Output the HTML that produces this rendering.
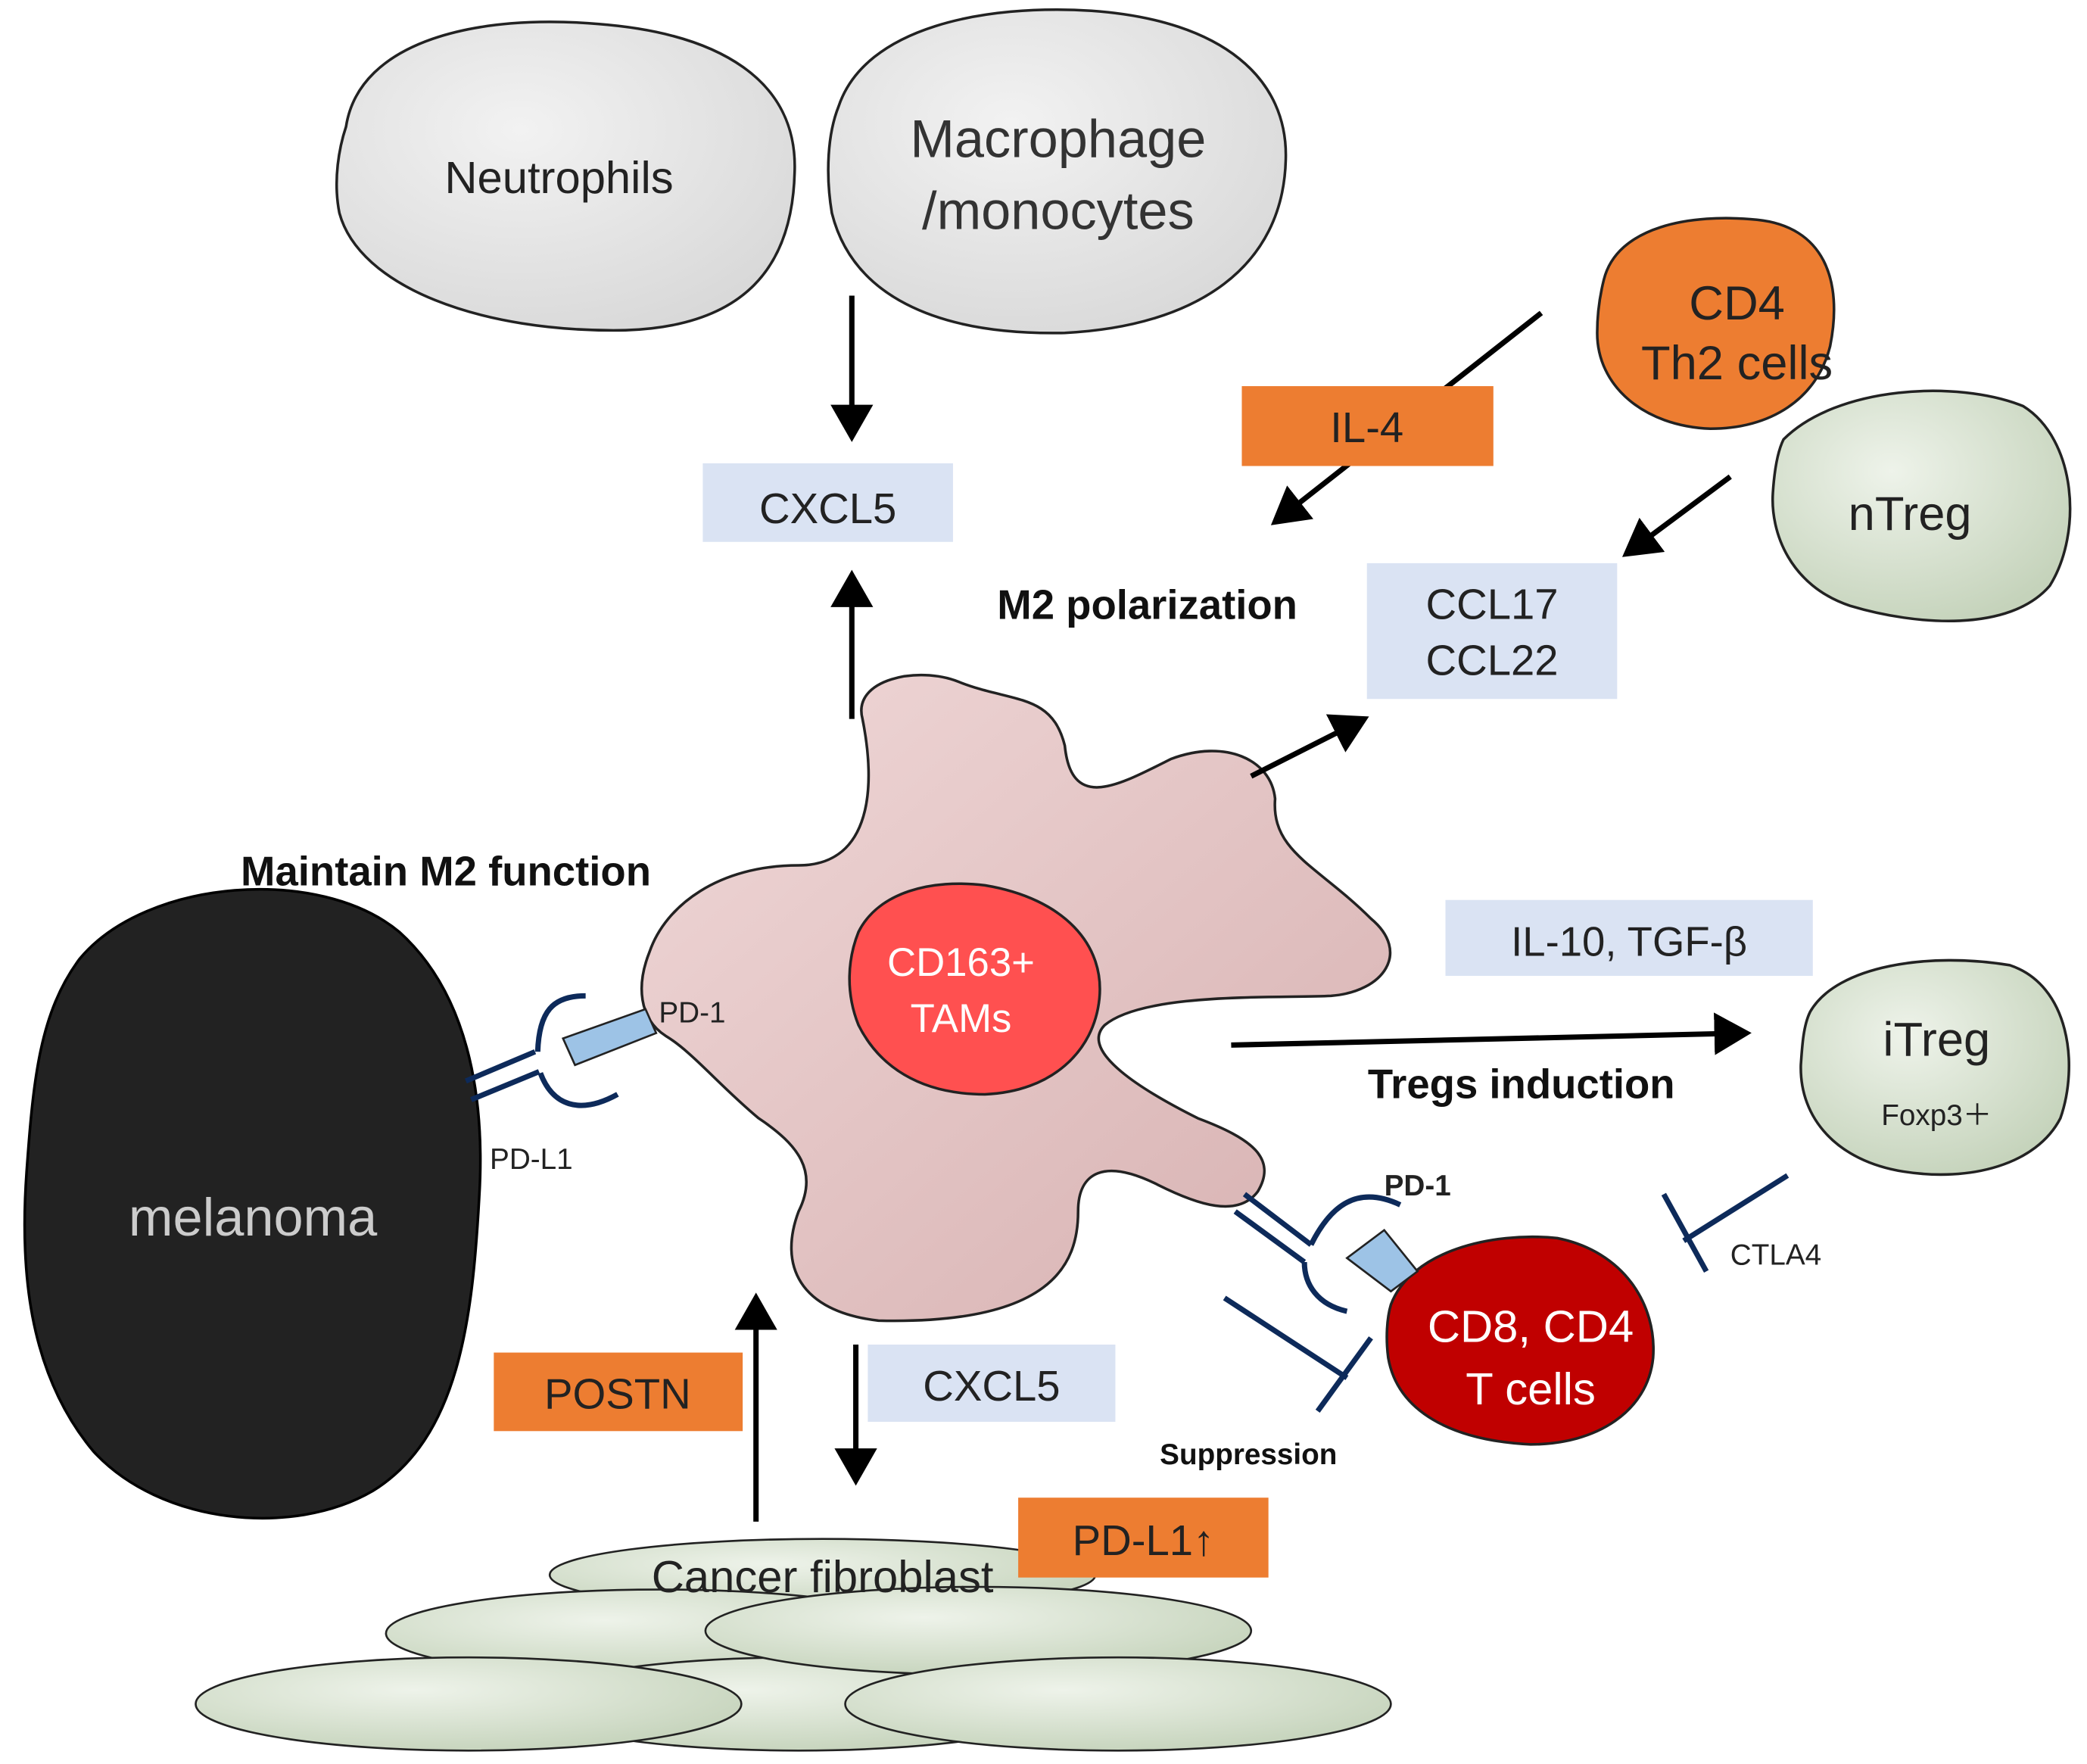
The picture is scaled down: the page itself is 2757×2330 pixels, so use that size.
<!DOCTYPE html>
<html><head><meta charset="utf-8"><style>
html,body{margin:0;padding:0;background:#fff}
svg{display:block}
text{font-family:"Liberation Sans",Arial,sans-serif}
</style></head><body>
<svg width="2757" height="2330" viewBox="0 0 1568 1325" xmlns="http://www.w3.org/2000/svg">
<defs>
<radialGradient id="gg" cx="0.4" cy="0.35" r="0.7"><stop offset="0" stop-color="#f2f2f2"/><stop offset="1" stop-color="#d9d9d9"/></radialGradient>
<radialGradient id="gr" cx="0.4" cy="0.35" r="0.7"><stop offset="0" stop-color="#eef3ea"/><stop offset="1" stop-color="#c5d3bb"/></radialGradient>
<linearGradient id="pk" x1="0" y1="0" x2="1" y2="1"><stop offset="0" stop-color="#f0d8d8"/><stop offset="1" stop-color="#d6b0b0"/></linearGradient>
<marker id="ah" markerWidth="8" markerHeight="8" refX="6" refY="4" orient="auto" markerUnits="strokeWidth"><path d="M0,0 L7,4 L0,8 Z" fill="#000"/></marker>
</defs>

<!-- top cells -->
<path d="M260,95 C270,30 360,10 450,18 C540,25 600,60 597,130 C595,200 560,245 470,248 C360,250 270,215 255,160 C250,135 255,110 260,95Z" fill="url(#gg)" stroke="#222" stroke-width="2"/>
<text x="420" y="145" font-size="34" text-anchor="middle" fill="#222">Neutrophils</text>
<path d="M630,80 C650,20 740,3 820,8 C920,15 968,60 966,120 C964,200 900,245 800,250 C700,252 640,220 625,160 C620,130 622,100 630,80Z" fill="url(#gg)" stroke="#222" stroke-width="2"/>
<text x="795" y="118" font-size="40" text-anchor="middle" fill="#333">Macrophage</text>
<text x="795" y="172" font-size="40" text-anchor="middle" fill="#333">/monocytes</text>

<line x1="640" y1="222" x2="640" y2="328" stroke="#000" stroke-width="4" marker-end="url(#ah)"/>
<rect x="528" y="348" width="188" height="59" fill="#dae3f3"/>
<text x="622" y="393" font-size="32" text-anchor="middle" fill="#222">CXCL5</text>
<line x1="640" y1="540" x2="640" y2="432" stroke="#000" stroke-width="4" marker-end="url(#ah)"/>

<!-- CD4 Th2 -->
<path d="M1205,210 C1215,170 1270,160 1320,165 C1370,170 1385,210 1375,260 C1365,300 1330,322 1285,322 C1235,320 1200,290 1200,250 C1200,235 1202,222 1205,210Z" fill="#ed7d31" stroke="#222" stroke-width="2"/>
<text x="1305" y="240" font-size="36" text-anchor="middle" fill="#222">CD4</text>
<text x="1305" y="285" font-size="36" text-anchor="middle" fill="#222">Th2 cells</text>
<!-- nTreg -->
<path d="M1340,330 C1380,290 1470,285 1520,305 C1560,330 1565,400 1540,440 C1510,475 1440,470 1390,455 C1345,440 1330,400 1332,370 C1333,355 1335,340 1340,330Z" fill="url(#gr)" stroke="#222" stroke-width="2"/>
<text x="1435" y="398" font-size="36" text-anchor="middle" fill="#222">nTreg</text>

<line x1="1158" y1="235" x2="958" y2="392" stroke="#000" stroke-width="4" marker-end="url(#ah)"/>
<rect x="933" y="290" width="189" height="60" fill="#ed7d31"/>
<text x="1027" y="332" font-size="32" text-anchor="middle" fill="#222">IL-4</text>
<line x1="1300" y1="358" x2="1222" y2="416" stroke="#000" stroke-width="4" marker-end="url(#ah)"/>
<rect x="1027" y="423" width="188" height="102" fill="#dae3f3"/>
<text x="1121" y="465" font-size="32" text-anchor="middle" fill="#222">CCL17</text>
<text x="1121" y="507" font-size="32" text-anchor="middle" fill="#222">CCL22</text>
<text x="862" y="465" font-size="31" font-weight="bold" text-anchor="middle" fill="#111">M2 polarization</text>
<text x="335" y="665" font-size="31" font-weight="bold" text-anchor="middle" fill="#111">Maintain M2 function</text>

<!-- TAM -->
<path d="M648,540 C640,510 690,500 720,512 C760,528 790,520 800,560 C805,610 840,590 880,570 C920,555 955,570 958,600 C955,640 990,650 1030,690 C1060,715 1040,745 1000,748 C960,750 860,745 830,770 C810,790 860,820 900,840 C940,855 960,870 945,895 C930,915 900,905 870,890 C830,870 810,880 810,910 C810,950 790,995 660,992 C600,985 585,950 600,910 C615,880 600,860 570,840 C540,815 520,790 500,778 C480,765 478,740 488,715 C500,680 540,650 600,650 C650,650 660,600 648,540Z" fill="url(#pk)" stroke="#222" stroke-width="2"/>
<path d="M645,700 C660,670 700,660 740,665 C800,675 830,710 826,750 C822,790 790,820 740,822 C690,822 660,800 645,770 C635,745 637,720 645,700Z" fill="#ff5050" stroke="#222" stroke-width="2"/>
<text x="722" y="733" font-size="30" text-anchor="middle" fill="#fff">CD163+</text>
<text x="722" y="775" font-size="30" text-anchor="middle" fill="#fff">TAMs</text>

<line x1="940" y1="583" x2="1025" y2="540" stroke="#000" stroke-width="4" marker-end="url(#ah)"/>
<rect x="1086" y="676" width="276" height="57" fill="#dae3f3"/>
<text x="1224" y="718" font-size="31" text-anchor="middle" fill="#222">IL-10, TGF-β</text>
<line x1="925" y1="785" x2="1312" y2="776" stroke="#000" stroke-width="4" marker-end="url(#ah)"/>
<text x="1143" y="825" font-size="31" font-weight="bold" text-anchor="middle" fill="#111">Tregs induction</text>

<!-- iTreg -->
<path d="M1360,760 C1380,725 1450,715 1510,725 C1555,740 1562,800 1548,840 C1530,875 1480,888 1430,880 C1380,872 1352,840 1353,800 C1354,785 1355,770 1360,760Z" fill="url(#gr)" stroke="#222" stroke-width="2"/>
<text x="1455" y="793" font-size="36" text-anchor="middle" fill="#222">iTreg</text>
<text x="1455" y="845" font-size="22" text-anchor="middle" fill="#222">Foxp3＋</text>

<!-- melanoma -->
<path d="M60,720 C110,660 240,650 300,700 C350,745 365,820 360,900 C355,990 345,1080 280,1120 C220,1155 120,1145 70,1090 C20,1030 15,950 20,880 C25,810 30,760 60,720Z" fill="#222" stroke="#000" stroke-width="2"/>
<text x="190" y="928" font-size="40" text-anchor="middle" fill="#ccc">melanoma</text>

<!-- PD-1/PD-L1 left -->
<g stroke="#0d2a5a" stroke-width="4" fill="none">
<line x1="350" y1="812" x2="402" y2="790"/>
<line x1="354" y1="826" x2="405" y2="805"/>
<path d="M440,748 C415,748 405,760 404,790"/>
<path d="M464,822 C435,838 415,830 406,806"/>
</g>
<path d="M423,780 L485,758 L493,776 L432,800Z" fill="#9dc3e6" stroke="#222" stroke-width="1.5"/>
<text x="495" y="768" font-size="22" fill="#222">PD-1</text>
<text x="368" y="878" font-size="22" fill="#222">PD-L1</text>

<!-- T cells -->
<path d="M1045,980 C1060,940 1120,925 1170,930 C1220,940 1245,980 1242,1020 C1238,1060 1200,1085 1150,1085 C1090,1082 1050,1060 1043,1020 C1041,1005 1042,990 1045,980Z" fill="#c00000" stroke="#222" stroke-width="2"/>
<text x="1150" y="1008" font-size="34" text-anchor="middle" fill="#fff">CD8, CD4</text>
<text x="1150" y="1055" font-size="34" text-anchor="middle" fill="#fff">T cells</text>
<g stroke="#0d2a5a" stroke-width="4" fill="none">
<line x1="935" y1="897" x2="985" y2="935"/>
<line x1="928" y1="910" x2="980" y2="948"/>
<path d="M1052,905 C1020,890 1000,905 985,935"/>
<path d="M1012,985 C990,980 980,965 980,948"/>
<line x1="920" y1="975" x2="1012" y2="1035"/>
<line x1="990" y1="1060" x2="1030" y2="1005"/>
<line x1="1343" y1="883" x2="1265" y2="932"/>
<line x1="1250" y1="897" x2="1282" y2="955"/>
</g>
<path d="M1012,945 L1040,924 L1065,955 L1045,970Z" fill="#9dc3e6" stroke="#222" stroke-width="1.5"/>
<text x="1040" y="898" font-size="22" font-weight="bold" fill="#222">PD-1</text>
<text x="1300" y="950" font-size="22" fill="#222">CTLA4</text>
<text x="938" y="1100" font-size="22" font-weight="bold" text-anchor="middle" fill="#111">Suppression</text>

<!-- bottom arrows -->
<line x1="568" y1="1143" x2="568" y2="975" stroke="#000" stroke-width="4" marker-end="url(#ah)"/>
<line x1="643" y1="1010" x2="643" y2="1112" stroke="#000" stroke-width="4" marker-end="url(#ah)"/>
<rect x="371" y="1016" width="187" height="59" fill="#ed7d31"/>
<text x="464" y="1058" font-size="32" text-anchor="middle" fill="#222">POSTN</text>
<rect x="652" y="1010" width="186" height="58" fill="#dae3f3"/>
<text x="745" y="1052" font-size="32" text-anchor="middle" fill="#222">CXCL5</text>

<!-- fibroblasts -->
<g stroke="#222" stroke-width="1.5" fill="url(#gr)">
<ellipse cx="618" cy="1183" rx="205" ry="27"/>
<ellipse cx="495" cy="1227" rx="205" ry="33"/>
<ellipse cx="600" cy="1280" rx="205" ry="35"/>
<ellipse cx="352" cy="1280" rx="205" ry="35"/>
<ellipse cx="735" cy="1225" rx="205" ry="33"/>
<ellipse cx="840" cy="1280" rx="205" ry="35"/>
</g>
<text x="618" y="1196" font-size="34" text-anchor="middle" fill="#222">Cancer fibroblast</text>
<rect x="765" y="1125" width="188" height="60" fill="#ed7d31"/>
<text x="859" y="1168" font-size="32" text-anchor="middle" fill="#222">PD-L1↑</text>
</svg>
</body></html>
